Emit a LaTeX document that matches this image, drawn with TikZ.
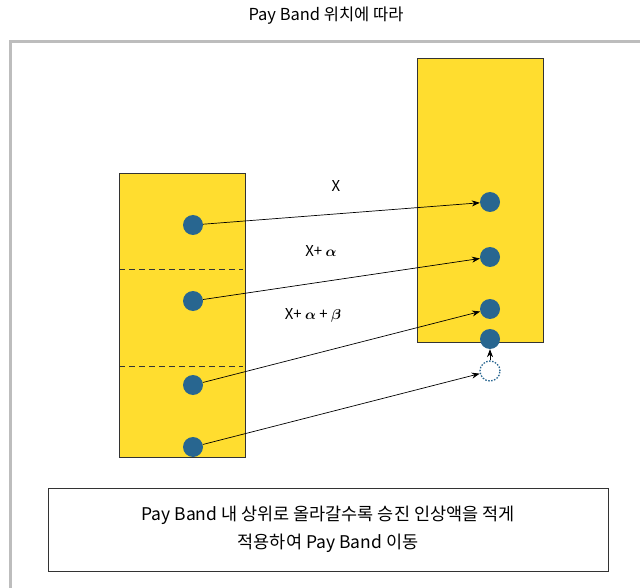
\documentclass[tikz,border=0pt]{standalone}
\usepackage{amsmath}
\usepackage{fontspec}
\setmainfont{Noto Sans CJK KR}
\usetikzlibrary{arrows.meta}
\definecolor{band}{HTML}{FFDD2F}
\definecolor{dot}{HTML}{286690}
\definecolor{frame}{HTML}{BDBDBD}
\definecolor{ink}{HTML}{333333}

\begin{document}
\begin{tikzpicture}[x=1pt,y=-1pt,>={Stealth[length=8pt,width=6pt]},
  bandbox/.style={draw=ink,fill=band,line width=0.8pt},
  pt/.style={circle,fill=dot,inner sep=0pt,minimum size=20pt},
  move/.style={->,line width=0.7pt,black},
  lbl/.style={font=\fontsize{15}{17}\selectfont}]
\useasboundingbox (0,0) rectangle (640,588);
\node[font=\fontsize{16.5}{19}\selectfont] (title) at (326,16) {Pay Band 위치에 따라};
\draw[frame,line width=3pt] (10,588) -- (10,42) -- (641,42);
% bands
\draw[bandbox] (119,173) rectangle (245,457);
\draw[bandbox] (417,58) rectangle (543,342);
\draw[dash pattern=on 6pt off 4pt,ink,line width=0.8pt] (119,269) -- (243,269);
\draw[dash pattern=on 6pt off 4pt,ink,line width=0.8pt] (119,366) -- (243,366);
% positions
\node[pt] (l1) at (193,225) {};
\node[pt] (l2) at (193,301) {};
\node[pt] (l3) at (193,385) {};
\node[pt] (l4) at (193,447) {};
\node[pt] (r1) at (490,202) {};
\node[pt] (r2) at (490,257) {};
\node[pt] (r3) at (490,309) {};
\node[pt] (r4) at (490,339) {};
\node[circle,draw=dot,dash pattern=on 1.5pt off 1.5pt,line width=1.3pt,fill=white,inner sep=0pt,minimum size=20pt] (r5) at (490,371) {};
\draw[move] (l1) -- (r1);
\draw[move] (l2) -- (r2);
\draw[move] (l3) -- (r3);
\draw[move] (l4) -- (r5);
\draw[move] (r5) -- (r4);
\node[lbl] (x1) at (336,186) {X};
\node[lbl] (x2) at (321,251) {X+ $\boldsymbol{\alpha}$};
\node[lbl] (x3) at (313,315) {X+ $\boldsymbol{\alpha}$ + $\boldsymbol{\beta}$};
% note
\node[draw=ink,line width=0.8pt,minimum width=560pt,minimum height=83pt,align=center,
  font=\fontsize{17.5}{28}\selectfont] (note) at (328,529.5)
  {Pay Band 내 상위로 올라갈수록 승진 인상액을 적게\\ 적용하여 Pay Band 이동};
\end{tikzpicture}
\end{document}
